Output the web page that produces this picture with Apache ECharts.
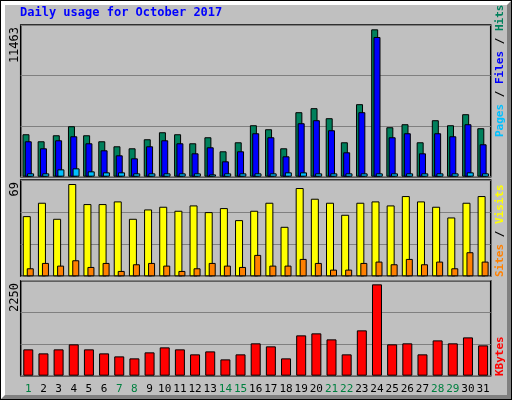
<!DOCTYPE html>
<html lang="en">
<head>
  <meta charset="UTF-8">
  <title>Daily usage for October 2017</title>
  <script src="https://cdn.jsdelivr.net/npm/echarts@6/dist/echarts.min.js"></script>
  <style>
    *{margin:0;padding:0;}
    body{width:512px;height:400px;overflow:hidden;background:#c0c0c0;}
    .frame{position:absolute;left:0;top:0;width:512px;height:400px;box-sizing:border-box;
      border:1px solid #000;}
    .inner{position:absolute;left:0;top:0;right:0;bottom:0;box-sizing:border-box;
      border-left:4px solid #fff;border-top:4px solid #fff;border-right:4px solid #808080;border-bottom:4px solid #808080;}
    .container{position:absolute;left:0;top:0;width:512px;height:400px;}
  </style>
</head>
<body>
  <div class="frame"><div class="inner"></div></div>
  <div class="container"></div>

  <script type="text/javascript">
    var days = ['1','2','3','4','5','6','7','8','9','10','11','12','13','14','15','16',
      '17','18','19','20','21','22','23','24','25','26','27','28','29','30','31']
    var weekend = ['1','7','8','14','15','21','22','28','29']
    var hits = [3302,2756,3224,3926,3224,2756,2366,2210,2912,3458,3302,2600,3068,1976,2678,4004,
      3692,2210,5018,5330,4550,2678,5642,11463,3848,4082,2678,4394,4004,4862,3770]
    var files = [2756,2210,2834,3146,2600,2054,1664,1430,2366,2834,2600,1820,2288,1196,1976,3380,
      3068,1586,4160,4394,3614,1898,5018,10868,3068,3380,1820,3380,3146,4082,2522]
    var pages = [260,260,572,650,416,338,338,260,260,260,260,260,182,260,260,260,
      260,338,338,260,260,260,260,260,260,260,260,260,260,338,260]
    var visits = [45,55,43,69,54,54,56,43,50,52,49,53,48,51,42,49,
      55,37,66,58,55,46,55,56,53,60,56,52,44,55,60]
    var sites = [6,10,8,12,7,10,4,9,10,8,4,6,10,8,7,16,
      8,8,13,10,5,5,10,11,9,13,9,11,6,18,11]
    var kbytes = [649,550,649,772,649,550,476,427,575,698,649,526,599,402,526,797,
      723,427,994,1043,895,526,1117,2250,772,797,526,870,797,944,747]
    var maxLabels = ['11463','69','2250']

    var mono = 'DejaVu Sans Mono'
    const mCharts = echarts.init(document.querySelector('.container'))

    function xAx(i, show){
      return {
        type:'category', gridIndex:i, data:days,
        axisLine:{show:false}, axisTick:{show:false},
        axisLabel:{
          show:show, interval:0, margin:8, fontFamily:mono, fontSize:11,
          formatter:function(v){ return weekend.indexOf(v) >= 0 ? '{w|'+v+'}' : '{d|'+v+'}' },
          rich:{ w:{color:'#008040',fontFamily:mono,fontSize:11}, d:{color:'#000',fontFamily:mono,fontSize:11} }
        }
      }
    }
    function yAx(i, max){
      return {
        type:'value', gridIndex:i, min:0, max:max, interval:max/3,
        axisLabel:{show:false}, axisLine:{show:false}, axisTick:{show:false},
        splitLine:{lineStyle:{color:'#808080', width:1}}
      }
    }
    var bord = {show:true, borderColor:'#000', borderWidth:1.5, backgroundColor:'transparent'}

    var option = {
      animation:false,
      grid:[
        Object.assign({left:20.7, right:21.3, top:25, bottom:223.3}, bord),
        Object.assign({left:20.7, right:21.3, top:180, bottom:123.7}, bord),
        Object.assign({left:20.7, right:21.3, top:280.7, bottom:24.3}, bord)
      ],
      xAxis:[xAx(0,false), xAx(1,false), xAx(2,true)],
      yAxis:[yAx(0,11800), yAx(1,72), yAx(2,2340)],
      series:[
        {type:'bar', data:hits, xAxisIndex:0, yAxisIndex:0, barWidth:7, barGap:'-67%',
          itemStyle:{color:'#00805c', borderColor:'#000', borderWidth:1}},
        {type:'bar', data:files, xAxisIndex:0, yAxisIndex:0, barWidth:7, barGap:'-67%',
          itemStyle:{color:'#0000ff', borderColor:'#000', borderWidth:1}},
        {type:'bar', data:pages, xAxisIndex:0, yAxisIndex:0, barWidth:7, barGap:'-67%',
          itemStyle:{color:'#00c0ff', borderColor:'#000', borderWidth:1}},
        {type:'bar', data:visits, xAxisIndex:1, yAxisIndex:1, barWidth:8, barGap:'-50%',
          itemStyle:{color:'#ffff00', borderColor:'#000', borderWidth:1}},
        {type:'bar', data:sites, xAxisIndex:1, yAxisIndex:1, barWidth:7, barGap:'-50%',
          itemStyle:{color:'#ff8000', borderColor:'#000', borderWidth:1}},
        {type:'bar', data:kbytes, xAxisIndex:2, yAxisIndex:2, barWidth:10,
          itemStyle:{color:'#ff0000', borderColor:'#000', borderWidth:1}}
      ],
      graphic:[
        {type:'text', left:20, top:7, style:{text:'Daily usage for October 2017', fill:'#0000ff',
          font:'bold 12px "DejaVu Sans Mono"'}},
        {type:'text', x:15, y:27, rotation:Math.PI/2, style:{text:maxLabels[0], fill:'#000',
          font:'12px "DejaVu Sans Mono"', align:'right', verticalAlign:'middle'}},
        {type:'text', x:15, y:182, rotation:Math.PI/2, style:{text:maxLabels[1], fill:'#000',
          font:'12px "DejaVu Sans Mono"', align:'right', verticalAlign:'middle'}},
        {type:'text', x:15, y:283, rotation:Math.PI/2, style:{text:maxLabels[2], fill:'#000',
          font:'12px "DejaVu Sans Mono"', align:'right', verticalAlign:'middle'}},
        {type:'text', x:500, y:137, rotation:Math.PI/2, style:{
          text:'{p|Pages}{s| / }{f|Files}{s| / }{h|Hits}', align:'left', verticalAlign:'middle',
          rich:{p:{fill:'#00c0ff',font:'bold 11px "DejaVu Sans Mono"'},
            f:{fill:'#0000ff',font:'bold 11px "DejaVu Sans Mono"'},
            h:{fill:'#00805c',font:'bold 11px "DejaVu Sans Mono"'},
            s:{fill:'#000',font:'bold 11px "DejaVu Sans Mono"'}}}},
        {type:'text', x:500, y:277, rotation:Math.PI/2, style:{
          text:'{a|Sites}{s| / }{b|Visits}', align:'left', verticalAlign:'middle',
          rich:{a:{fill:'#ff8000',font:'bold 11px "DejaVu Sans Mono"'},
            b:{fill:'#ffff00',font:'bold 11px "DejaVu Sans Mono"'},
            s:{fill:'#000',font:'bold 11px "DejaVu Sans Mono"'}}}},
        {type:'text', x:500, y:376, rotation:Math.PI/2, style:{
          text:'KBytes', fill:'#ff0000', font:'bold 11px "DejaVu Sans Mono"', align:'left', verticalAlign:'middle'}}
      ]
    }
    mCharts.setOption(option)
    window.onresize = mCharts.resize
  </script>
</body>
</html>
